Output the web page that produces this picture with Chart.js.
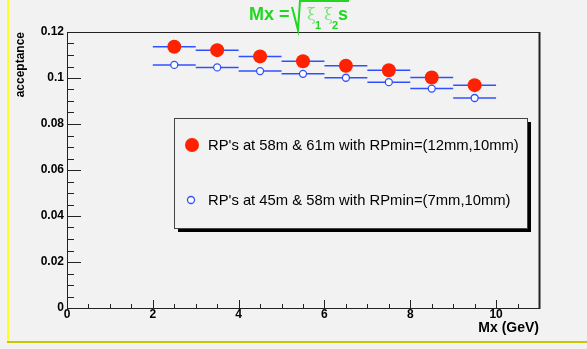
<!DOCTYPE html>
<html>
<head>
<meta charset="utf-8">
<script src="https://cdn.jsdelivr.net/npm/chart.js"></script>
<style>
  html, body { margin: 0; padding: 0; background: #f2f2f2; }
  canvas { display: block; }
</style>
</head>
<body>
<canvas id="acceptanceChart" width="587" height="349"></canvas>
<script>
// Mx bin centres (GeV) and bin half widths
const massBins = [2.5, 3.5, 4.5, 5.5, 6.5, 7.5, 8.5, 9.5];
const binHalfWidth = [0.5, 0.5, 0.5, 0.5, 0.5, 0.5, 0.5, 0.5];

// acceptance for the two roman pot configurations
const acc58_61 = [0.1136, 0.1121, 0.1094, 0.1073, 0.1053, 0.1034, 0.1002, 0.0969];
const acc45_58 = [0.1057, 0.1046, 0.1030, 0.1018, 0.1001, 0.0982, 0.0954, 0.0913];

const seriesLabels = [
    "RP's at 58m & 61m with RPmin=(12mm,10mm)",
    "RP's at 45m & 58m with RPmin=(7mm,10mm)"
];

const xTicks = [0, 2, 4, 6, 8, 10];
const xTickLabels = ["0", "2", "4", "6", "8", "10"];
const yTicks = [0, 0.02, 0.04, 0.06, 0.08, 0.1, 0.12];
const yTickLabels = ["0", "0.02", "0.04", "0.06", "0.08", "0.1", "0.12"];

const RED = '#ff2200';
const BLUE = '#3050ff';
const BG = '#f2f2f2';
const GREEN = '#22d622';

function toPoints(ys) {
    return massBins.map((x, i) => ({ x: x, y: ys[i], xErr: binHalfWidth[i] }));
}

// ROOT-like frame, ticks, error bars, legend and titles
const rootStyle = {
    id: 'rootStyle',
    beforeDraw(chart) {
        const ctx = chart.ctx;
        ctx.save();
        ctx.fillStyle = BG;
        ctx.fillRect(0, 0, chart.width, chart.height);
        // pad border
        ctx.fillStyle = '#ffff22';
        ctx.fillRect(7, 0, 2, 343);
        ctx.fillStyle = '#c8c800';
        ctx.fillRect(7, 341, chart.width - 7, 2);
        ctx.restore();
    },
    beforeDatasetsDraw(chart) {
        const ctx = chart.ctx;
        const xs = chart.scales.x;
        const ys = chart.scales.y;
        const area = chart.chartArea;
        ctx.save();

        // frame
        ctx.strokeStyle = '#222';
        ctx.lineWidth = 1;
        ctx.strokeRect(area.left + 0.5, area.top + 0.5, area.right - area.left, area.bottom - area.top);
        ctx.fillStyle = '#222';
        ctx.fillRect(area.right - 0.5, area.top, 2, area.bottom - area.top + 1);

        // y ticks: majors every 0.02, 4 subdivisions
        ctx.beginPath();
        for (let i = 0; i <= 24; i++) {
            const v = i * 0.005;
            const py = Math.round(ys.getPixelForValue(v)) + 0.5;
            const len = (i % 4 === 0) ? 14 : 7;
            ctx.moveTo(area.left, py);
            ctx.lineTo(area.left + len, py);
        }
        // x ticks: majors every 2, minors every 0.5
        for (let i = 0; i <= 22; i++) {
            const v = i * 0.5;
            const px = Math.round(xs.getPixelForValue(v)) + 0.5;
            const len = (i % 4 === 0) ? 8 : 4;
            ctx.moveTo(px, area.bottom);
            ctx.lineTo(px, area.bottom - len);
        }
        ctx.stroke();

        // horizontal error bars
        ctx.strokeStyle = BLUE;
        ctx.lineWidth = 1.5;
        chart.data.datasets.forEach(ds => {
            ds.data.forEach(p => {
                const py = ys.getPixelForValue(p.y);
                ctx.beginPath();
                ctx.moveTo(xs.getPixelForValue(p.x - p.xErr), py);
                ctx.lineTo(xs.getPixelForValue(p.x + p.xErr), py);
                ctx.stroke();
            });
        });
        ctx.restore();
    },
    afterDraw(chart) {
        const ctx = chart.ctx;
        const area = chart.chartArea;
        ctx.save();

        // axis titles
        ctx.fillStyle = '#000';
        ctx.font = 'bold 14px "Liberation Sans", Arial, sans-serif';
        ctx.textAlign = 'right';
        ctx.textBaseline = 'alphabetic';
        ctx.fillText('Mx (GeV)', area.right, 332);

        ctx.save();
        ctx.translate(24, area.top);
        ctx.rotate(-Math.PI / 2);
        ctx.font = 'bold 12px "Liberation Sans", Arial, sans-serif';
        ctx.textAlign = 'right';
        ctx.fillText('acceptance', 0, 0);
        ctx.restore();

        // legend box with shadow
        const lx = 174, ly = 118, lw = 353, lh = 110;
        ctx.fillStyle = '#000';
        ctx.fillRect(lx + 4, ly + 4, lw, lh);
        ctx.fillStyle = BG;
        ctx.fillRect(lx, ly, lw, lh);
        ctx.strokeStyle = '#444';
        ctx.lineWidth = 1;
        ctx.strokeRect(lx + 0.5, ly + 0.5, lw, lh);

        ctx.font = '14.8px "Liberation Sans", Arial, sans-serif';
        ctx.textAlign = 'left';
        ctx.textBaseline = 'middle';
        ctx.fillStyle = '#000';
        ctx.fillText(seriesLabels[0], 208, 146);
        ctx.fillText(seriesLabels[1], 208, 201);

        ctx.fillStyle = RED;
        ctx.beginPath();
        ctx.arc(192, 145, 7, 0, Math.PI * 2);
        ctx.fill();
        ctx.fillStyle = '#fff';
        ctx.strokeStyle = BLUE;
        ctx.lineWidth = 1.3;
        ctx.beginPath();
        ctx.arc(191, 200, 3.5, 0, Math.PI * 2);
        ctx.fill();
        ctx.stroke();

        // title: Mx = sqrt(xi1 xi2 s)
        ctx.fillStyle = GREEN;
        ctx.textBaseline = 'alphabetic';
        ctx.font = 'bold 18px "Liberation Sans", Arial, sans-serif';
        ctx.fillText('Mx =', 249, 20);
        ctx.strokeStyle = GREEN;
        ctx.lineWidth = 2;
        ctx.beginPath();
        ctx.moveTo(292, 7);
        ctx.lineTo(298, 30);
        ctx.lineTo(300, 1);
        ctx.lineTo(349, 1);
        ctx.stroke();
        ctx.fillStyle = '#7ee47e';
        ctx.font = '16px "DejaVu Serif", serif';
        ctx.fillText('\u03BE', 307, 20);
        ctx.fillText('\u03BE', 324, 20);
        ctx.fillStyle = GREEN;
        ctx.font = 'bold 11px "Liberation Sans", Arial, sans-serif';
        ctx.fillText('1', 315, 29);
        ctx.fillText('2', 332, 29);
        ctx.font = 'bold 18px "Liberation Sans", Arial, sans-serif';
        ctx.fillText('s', 338, 20);
        ctx.restore();
    }
};

const tickFont = { family: '"Liberation Sans", Arial, sans-serif', size: 12, weight: 'bold' };

new Chart(document.getElementById('acceptanceChart'), {
    type: 'scatter',
    data: {
        datasets: [
            {
                label: seriesLabels[0],
                data: toPoints(acc58_61),
                pointStyle: 'circle',
                pointRadius: 7,
                pointBackgroundColor: RED,
                pointBorderWidth: 0,
                pointBorderColor: RED
            },
            {
                label: seriesLabels[1],
                data: toPoints(acc45_58),
                pointStyle: 'circle',
                pointRadius: 3.5,
                pointBackgroundColor: '#ffffff',
                pointBorderWidth: 1.3,
                pointBorderColor: BLUE
            }
        ]
    },
    options: {
        responsive: false,
        animation: false,
        devicePixelRatio: 1,
        layout: { padding: { left: 0, top: 32, right: 48, bottom: 0 } },
        plugins: { legend: { display: false }, tooltip: { enabled: false }, title: { display: false } },
        scales: {
            x: {
                type: 'linear',
                min: 0,
                max: 11,
                border: { display: false },
                grid: { display: false, drawTicks: false },
                afterBuildTicks: scale => { scale.ticks = xTicks.map(v => ({ value: v })); },
                afterFit: scale => { scale.height = 41; },
                ticks: {
                    padding: -1,
                    maxRotation: 0,
                    color: '#000',
                    font: tickFont,
                    callback: (v) => xTickLabels[xTicks.indexOf(v)]
                }
            },
            y: {
                type: 'linear',
                min: 0,
                max: 0.12,
                border: { display: false },
                grid: { display: false, drawTicks: false },
                afterBuildTicks: scale => { scale.ticks = yTicks.map(v => ({ value: v })); },
                afterFit: scale => { scale.width = 67; },
                ticks: {
                    padding: 3,
                    color: '#000',
                    font: tickFont,
                    callback: (v) => yTickLabels[yTicks.indexOf(v)]
                }
            }
        }
    },
    plugins: [rootStyle]
});
</script>
</body>
</html>
